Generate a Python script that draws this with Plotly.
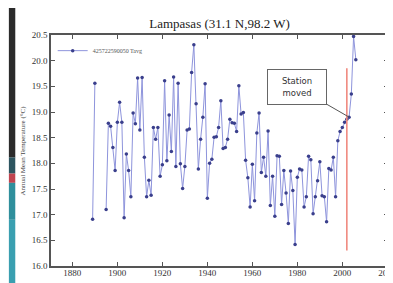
import plotly.graph_objects as go

years = list(range(1889, 2007))
temps = [
    16.91, 19.56, None, None, None, None,             # 1889-1894
    17.10, 18.78, 18.72, 18.31, 17.86,                # 1895-1899
    18.80, 19.19, 18.80, 16.94, 18.18, 17.86, 17.35, 18.98, 18.77, 19.66,  # 1900-1909
    18.65, 19.67, 18.12, 17.35, 17.67, 17.38, 18.70, 18.47, 18.70, 17.75,  # 1910-1919
    17.97, 19.61, 18.05, 18.94, 18.23, 19.68, 17.94, 19.56, 17.99, 17.51,  # 1920-1929
    17.94, 18.65, 18.67, 19.77, 20.31, 19.16, 17.89, 18.47, 18.90, 19.55,  # 1930-1939
    17.32, 18.00, 18.08, 18.51, 18.52, 18.70, 19.22, 18.29, 18.31, 18.47,  # 1940-1949
    18.86, 18.79, 18.78, 18.62, 19.51, 18.96, 18.99, 18.06, 17.72, 17.15,  # 1950-1959
    17.98, 17.27, 18.59, 18.98, 17.82, 18.12, 17.75, 18.63, 17.18, 17.75,  # 1960-1969
    16.97, 18.15, 18.14, 17.20, 17.86, 17.42, 16.83, 17.85, 17.47, 16.42,  # 1970-1979
    17.73, 17.89, 17.87, 17.15, 17.35, 18.14, 18.07, 17.02, 17.35, 17.66,  # 1980-1989
    18.03, 17.37, 17.35, 16.86, 17.90, 17.87, 18.12, 17.35, 18.44, 18.62,  # 1990-1999
    18.70, 18.80, 18.86, 18.90, 19.35, 20.47, 20.02,                       # 2000-2006
]
series_name = "425722590050 Tavg"
title_text = "Lampasas (31.1 N,98.2 W)"
y_title = "Annual Mean Temperature (°C)"
x_ticks = [1880, 1900, 1920, 1940, 1960, 1980, 2000, 2020]
y_ticks = [16.0, 16.5, 17.0, 17.5, 18.0, 18.5, 19.0, 19.5, 20.0, 20.5]
move_year = 2002
move_line = [16.3, 19.85]
note_year, note_val = 2003, 18.90
note_text = "Station<br>moved"

serif = "Liberation Serif, Times New Roman, serif"

fig = go.Figure()
fig.add_trace(go.Scatter(
    x=years, y=temps, mode="lines+markers", name=series_name,
    line=dict(color="#8e94dc", width=1),
    marker=dict(color="#3a3f8c", size=3.5),
    connectgaps=False,
))

fig.add_shape(type="line", xref="x", yref="y",
              x0=move_year, x1=move_year, y0=move_line[0], y1=move_line[1],
              line=dict(color="#f08a80", width=1.6))

# left-edge strip (edge of adjacent picture)
strip = [(1.117, 0.47, "#2b2b2b"), (0.47, 0.40, "#2d5560"),
         (0.40, 0.36, "#c04550"), (0.36, 0.20, "#2f8f9c"),
         (0.20, -0.108, "#3a9fb0")]
for y0, y1, c in strip:
    fig.add_shape(type="rect", xref="paper", yref="paper",
                  x0=-0.125, x1=-0.106, y0=y1, y1=y0,
                  fillcolor=c, line=dict(width=0), layer="below")

fig.add_annotation(
    x=note_year, y=note_val, xref="x", yref="y",
    text=note_text, showarrow=True, arrowhead=0, arrowwidth=1,
    arrowcolor="#555", ax=-52, ay=-30,
    font=dict(family="DejaVu Sans, sans-serif", size=8.5, color="#333"),
    bgcolor="white", bordercolor="#666", borderwidth=1, borderpad=3,
    width=52, height=28,
)

fig.add_annotation(
    x=0, y=0.5, xref="paper", yref="paper", xshift=-29,
    text=y_title, textangle=-90, showarrow=False,
    font=dict(family=serif, size=7, color="#444"),
    xanchor="center", yanchor="middle",
)

axis_common = dict(
    showline=True, mirror="ticks", linecolor="#555", linewidth=1.5,
    ticks="inside", ticklen=4, tickcolor="#555", showgrid=False,
    zeroline=False, tickfont=dict(family=serif, size=9, color="#333"),
    ticklabeloverflow="allow",
)

fig.update_layout(
    width=393, height=283,
    margin=dict(l=43, r=4, t=27, b=25),
    paper_bgcolor="white", plot_bgcolor="white",
    title=dict(text=title_text, x=0.5, xref="paper", xanchor="center",
               y=1 - 15 / 283, yanchor="middle",
               font=dict(family=serif, size=13, color="#222")),
    xaxis=dict(range=[1870.5, 2020.3], tickvals=x_ticks,
               ticklabelstandoff=-3, **axis_common),
    yaxis=dict(range=[16.0, 20.5], tickvals=y_ticks, tickformat=".1f",
               **axis_common),
    showlegend=True,
    legend=dict(x=0.005, y=0.995, xanchor="left", yanchor="top",
                bgcolor="rgba(0,0,0,0)", itemwidth=30,
                font=dict(family=serif, size=6, color="#555"),
                tracegroupgap=0),
)

fig.write_html("out.html")
